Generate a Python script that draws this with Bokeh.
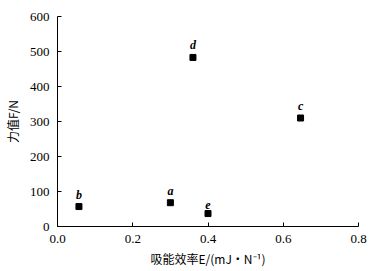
from bokeh.plotting import figure
from bokeh.models import Range1d, FixedTicker
from bokeh.embed import file_html
from bokeh.resources import INLINE
from bokeh.core.properties import value

names = ["a", "b", "c", "d", "e"]
efficiency = [0.30, 0.057, 0.646, 0.36, 0.40]
force = [68, 57, 310, 483, 37]
x_ticks = [0.0, 0.2, 0.4, 0.6, 0.8]
y_ticks = [0, 100, 200, 300, 400, 500, 600]

p = figure(width=381, height=271, output_backend="svg", toolbar_location=None,
           x_range=Range1d(0, 0.8), y_range=Range1d(0, 600),
           min_border_left=57, min_border_right=23, min_border_top=16, min_border_bottom=45)
p.outline_line_color = None
p.xgrid.visible = False
p.ygrid.visible = False
p.background_fill_color = "white"
p.border_fill_color = "white"

p.scatter(efficiency, force, marker="square", size=6, color="black")
p.text(efficiency, force, text=names, y_offset=-5, text_align="center", text_baseline="bottom",
       text_font=value("Liberation Serif"), text_font_style="bold italic", text_font_size="12px",
       text_color="black")

for ax in (p.xaxis[0], p.yaxis[0]):
    ax.major_tick_in = 4
    ax.major_tick_out = 0
    ax.minor_tick_line_color = None
    ax.axis_line_color = "black"
    ax.major_tick_line_color = "black"
    ax.major_label_text_font = "Liberation Serif"
    ax.major_label_text_font_size = "13px"
    ax.major_label_text_color = "black"
    ax.axis_label_text_font = "Noto Sans CJK SC"
    ax.axis_label_text_font_style = "normal"
    ax.axis_label_text_font_size = "12px"
    ax.axis_label_text_color = "black"

p.xaxis.ticker = FixedTicker(ticks=x_ticks)
p.yaxis.ticker = FixedTicker(ticks=y_ticks)
p.xaxis.major_label_overrides = {t: f"{t:.1f}" for t in x_ticks}
p.xaxis.major_label_standoff = 8
p.yaxis.major_label_standoff = 8
p.xaxis.axis_label = "吸能效率E/(mJ・N⁻¹)"
p.yaxis.axis_label = "力值F/N"
p.xaxis.axis_label_standoff = 4
p.yaxis.axis_label_standoff = 6

open("out.html", "w").write(file_html(p, INLINE))
